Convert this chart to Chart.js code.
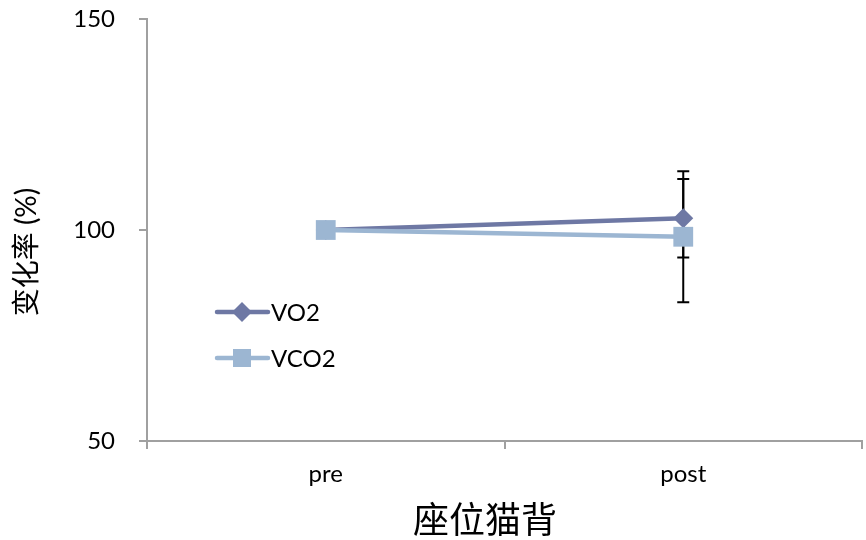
<!DOCTYPE html>
<html>
<head>
<meta charset="utf-8">
<script src="https://cdn.jsdelivr.net/npm/chart.js@4/dist/chart.umd.min.js"></script>
<style>
  html, body { margin: 0; padding: 0; background: #fff; }
  #wrap { width: 866px; height: 540px; }
</style>
</head>
<body>
<div id="wrap"><canvas id="c" width="866" height="540"></canvas></div>
<script>
// Categories and series
const categories = ['pre', 'post'];
const vo2 = [100, 102.8];
const vco2 = [100, 98.4];
// Standard deviations (error bars)
const vo2Err = [0, 9.3];
const vco2Err = [0, 15.5];
const yTicks = [50, 100, 150];
const seriesNames = ['VO2', 'VCO2'];
const yTitle = '变化率 (%)';
const xTitle = '座位猫背';

const COL_VO2 = '#6E78A4';
const COL_VCO2 = '#9CB6D2';
const AXIS = '#a0a0a0';
const FONT = 'Lato, "Noto Sans CJK SC", sans-serif';

// Error bars, drawn beneath the markers
const errorBars = {
  id: 'errorBars',
  beforeDatasetsDraw(chart) {
    const ctx = chart.ctx;
    const xs = chart.scales.x, ys = chart.scales.y;
    const sets = [[vo2, vo2Err], [vco2, vco2Err]];
    ctx.save();
    ctx.strokeStyle = '#000';
    ctx.lineWidth = 2;
    sets.forEach(([vals, errs]) => {
      vals.forEach((v, i) => {
        if (!errs[i]) return;
        const x = xs.getPixelForValue(i);
        const yTop = ys.getPixelForValue(v + errs[i]);
        const yBot = ys.getPixelForValue(v - errs[i]);
        ctx.beginPath();
        ctx.moveTo(x, yTop); ctx.lineTo(x, yBot);
        ctx.moveTo(x - 6, yTop); ctx.lineTo(x + 6, yTop);
        ctx.moveTo(x - 6, yBot); ctx.lineTo(x + 6, yBot);
        ctx.stroke();
      });
    });
    ctx.restore();
  }
};

// In-plot legend and axis titles
const annotations = {
  id: 'annotations',
  afterDraw(chart) {
    const ctx = chart.ctx;
    ctx.save();
    const rows = [
      { name: seriesNames[0], color: COL_VO2, style: 'diamond', y: 312 },
      { name: seriesNames[1], color: COL_VCO2, style: 'square', y: 358 }
    ];
    rows.forEach(r => {
      ctx.strokeStyle = r.color;
      ctx.fillStyle = r.color;
      ctx.lineWidth = 4.5;
      ctx.lineCap = 'round';
      ctx.beginPath();
      ctx.moveTo(217, r.y); ctx.lineTo(268, r.y);
      ctx.stroke();
      const cx = 242;
      ctx.beginPath();
      if (r.style === 'diamond') {
        ctx.moveTo(cx, r.y - 10); ctx.lineTo(cx + 10, r.y); ctx.lineTo(cx, r.y + 10); ctx.lineTo(cx - 10, r.y);
        ctx.closePath();
      } else {
        ctx.rect(cx - 9, r.y - 9, 18, 18);
      }
      ctx.fill();
      ctx.fillStyle = '#000';
      ctx.font = '24px ' + FONT;
      ctx.textAlign = 'left';
      ctx.textBaseline = 'middle';
      ctx.fillText(r.name, 271, r.y + 1);
    });

    ctx.fillStyle = '#000';
    ctx.textAlign = 'center';
    ctx.textBaseline = 'middle';
    ctx.font = '36px ' + FONT;
    ctx.fillText(xTitle, 485, 521);

    ctx.translate(27, 252);
    ctx.rotate(-Math.PI / 2);
    ctx.font = '28px ' + FONT;
    ctx.fillText(yTitle, 0, 0);
    ctx.restore();
  }
};

function noScalePadding(scale) {
  scale.paddingTop = 0;
  scale.paddingBottom = 0;
  scale.paddingLeft = 0;
  scale.paddingRight = 0;
}

new Chart(document.getElementById('c'), {
  type: 'line',
  data: {
    labels: categories,
    datasets: [
      {
        label: seriesNames[0],
        data: vo2,
        borderColor: COL_VO2,
        backgroundColor: COL_VO2,
        borderWidth: 4.5,
        pointStyle: 'rectRot',
        pointRadius: 10,
        pointBorderWidth: 0,
        order: 1
      },
      {
        label: seriesNames[1],
        data: vco2,
        borderColor: COL_VCO2,
        backgroundColor: COL_VCO2,
        borderWidth: 4.5,
        pointStyle: 'rect',
        pointRadius: 14,
        pointBorderWidth: 0,
        order: 0
      }
    ]
  },
  options: {
    responsive: false,
    animation: false,
    devicePixelRatio: 1,
    layout: { autoPadding: false, padding: { top: 19, right: 4, left: 0, bottom: 0 } },
    plugins: {
      legend: { display: false },
      tooltip: { enabled: false }
    },
    scales: {
      x: {
        offset: true,
        grid: { offset: true, drawOnChartArea: false, drawTicks: true, tickLength: 8, color: AXIS, lineWidth: 2 },
        border: { color: AXIS, width: 2 },
        ticks: { color: '#000', font: { family: FONT, size: 24 }, padding: 11 },
        afterFit(scale) { scale.height = 99; noScalePadding(scale); }
      },
      y: {
        min: 50,
        max: 150,
        afterBuildTicks(scale) { scale.ticks = yTicks.map(v => ({ value: v })); },
        grid: { drawOnChartArea: false, drawTicks: true, tickLength: 8, color: AXIS, lineWidth: 2 },
        border: { color: AXIS, width: 2 },
        ticks: { color: '#000', font: { family: FONT, size: 24 }, padding: 24 },
        afterFit(scale) { scale.width = 147; noScalePadding(scale); }
      }
    }
  },
  plugins: [errorBars, annotations]
});
</script>
</body>
</html>
